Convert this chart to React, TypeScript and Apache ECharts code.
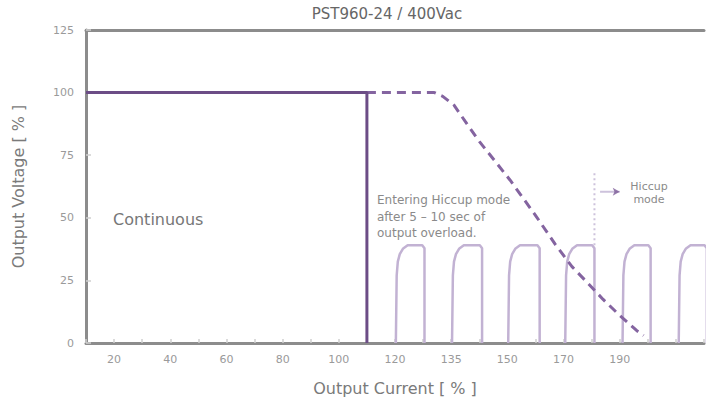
import React, { useEffect, useRef } from "react";
import * as echarts from "echarts";

const titleText = "PST960-24 / 400Vac";
const xTickValues = [20, 40, 60, 80, 100, 120, 140, 160, 180, 200];
const xTickLabels = ["20", "40", "60", "80", "100", "120", "135", "150", "170", "190"];
const continuousLine: [number, number][] = [
  [10, 100],
  [110, 100],
  [110, 0],
];
const derateLine: [number, number][] = [
  [110, 100],
  [134, 100],
  [137, 98.5],
  [141, 95],
  [145, 88.5],
  [150, 80.5],
  [155, 73.5],
  [161, 65],
  [170, 51],
  [177, 39.5],
  [183, 30.5],
  [189, 23.5],
  [194, 17.5],
  [200, 11],
  [206, 5],
  [208.5, 3],
];
const pulseStart = [120.3, 140.3, 160.3, 180.6, 201, 221];
const pulseEnd = [130.5, 151, 171.5, 191, 211, 231];
const pulseTop = 39;
const markerLine: [number, number][] = [
  [191, 39],
  [191, 68],
];
const arrowLine: [number, number][] = [
  [193, 60.4],
  [200, 60.4],
];

function buildPulses(): ([number, number] | null)[] {
  const pts: ([number, number] | null)[] = [];
  for (let i = 0; i < pulseStart.length; i++) {
    const s = pulseStart[i];
    const e = pulseEnd[i];
    const t = pulseTop;
    pts.push(
      [s, 0],
      [s + 0.3, t - 12],
      [s + 0.7, t - 6.5],
      [s + 1.4, t - 3.5],
      [s + 2.5, t - 1.4],
      [s + 4.2, t],
      [e - 0.8, t],
      [e, t - 1.2],
      [e, 0]
    );
    pts.push(null);
  }
  return pts;
}

const FONT = "'DejaVu Sans', Verdana, sans-serif";

export default function App() {
  const ref = useRef<HTMLDivElement>(null);
  useEffect(() => {
    if (!ref.current) return;
    const chart = echarts.init(ref.current, undefined, { renderer: "svg" });
    const labelMap: Record<number, string> = {};
    xTickValues.forEach((v, i) => (labelMap[v] = xTickLabels[i]));
    chart.setOption({
      animation: false,
      backgroundColor: "#ffffff",
      textStyle: { fontFamily: FONT },
      grid: { left: 86, top: 30, right: 0, bottom: 60 },
      xAxis: [
        {
          type: "value",
          min: 10,
          max: 230,
          interval: 10,
          name: "Output Current [ % ]",
          nameLocation: "middle",
          nameGap: 37,
          nameTextStyle: { color: "#7a7a7a", fontSize: 16, fontFamily: FONT },
          axisLine: { show: true, lineStyle: { color: "#8c8c8c", width: 3 } },
          axisTick: { show: true, inside: true, length: 4, lineStyle: { color: "#cfcfcf", width: 1.5 } },
          axisLabel: {
            color: "#9a9a9a",
            fontSize: 11,
            margin: 11,
            fontFamily: FONT,
            formatter: (v: number) => labelMap[v] ?? "",
          },
          splitLine: { show: false },
        },
        {
          type: "value",
          position: "top",
          min: 10,
          max: 230,
          axisLine: { show: true, lineStyle: { color: "#8c8c8c", width: 3 } },
          axisTick: { show: false },
          axisLabel: { show: false },
          splitLine: { show: false },
        },
      ],
      yAxis: {
        type: "value",
        min: 0,
        max: 125,
        interval: 25,
        name: "Output Voltage [ % ]",
        nameLocation: "middle",
        nameGap: 60,
        nameTextStyle: { color: "#7a7a7a", fontSize: 16, fontFamily: FONT },
        axisLine: { show: true, lineStyle: { color: "#8c8c8c", width: 3 } },
        axisTick: { show: true, inside: true, length: 5, lineStyle: { color: "#cfcfcf", width: 1.5 } },
        axisLabel: { color: "#9a9a9a", fontSize: 11, margin: 12, fontFamily: FONT },
        splitLine: { show: false },
      },
      series: [
        {
          type: "line",
          data: buildPulses(),
          connectNulls: false,
          showSymbol: false,
          symbol: "none",
          lineStyle: { color: "#c2b2d3", width: 2.5 },
          z: 2,
        },
        {
          type: "line",
          data: markerLine,
          symbol: "none",
          lineStyle: { color: "#cdc2dc", width: 2, type: [2, 3] },
          z: 2,
        },
        {
          type: "line",
          data: arrowLine,
          symbol: "none",
          lineStyle: { color: "#cdc2dc", width: 2 },
          z: 3,
        },
        {
          type: "scatter",
          data: [arrowLine[1]],
          symbol: "arrow",
          symbolSize: [6, 7],
          symbolRotate: -90,
          itemStyle: { color: "#7a5a96" },
          z: 4,
        },
        {
          type: "line",
          data: derateLine,
          symbol: "none",
          lineStyle: { color: "#8464a0", width: 3, type: [9, 6] },
          z: 3,
        },
        {
          type: "line",
          data: continuousLine,
          symbol: "none",
          lineStyle: { color: "#6c4d86", width: 3 },
          z: 4,
        },
      ],
      graphic: [
        {
          type: "text",
          x: 387,
          y: 14,
          style: { text: titleText, fill: "#666", fontSize: 15, align: "center", verticalAlign: "middle", fontFamily: FONT },
        },
        {
          type: "text",
          x: 113,
          y: 219,
          style: { text: "Continuous", fill: "#777", fontSize: 16, verticalAlign: "middle", fontFamily: FONT },
        },
        {
          type: "text",
          x: 377,
          y: 192,
          style: {
            text: "Entering Hiccup mode\nafter 5 – 10 sec of\noutput overload.",
            fill: "#8a8a8a",
            fontSize: 12,
            lineHeight: 16.5,
            fontFamily: FONT,
          },
        },
        {
          type: "text",
          x: 649,
          y: 180,
          style: {
            text: "Hiccup\nmode",
            fill: "#8a8a8a",
            fontSize: 11,
            lineHeight: 13,
            align: "center",
            fontFamily: FONT,
          },
        },
      ],
    });
    return () => chart.dispose();
  }, []);
  return <div ref={ref} style={{ position: "fixed", left: 0, top: 0, width: 707, height: 403 }} />;
}
